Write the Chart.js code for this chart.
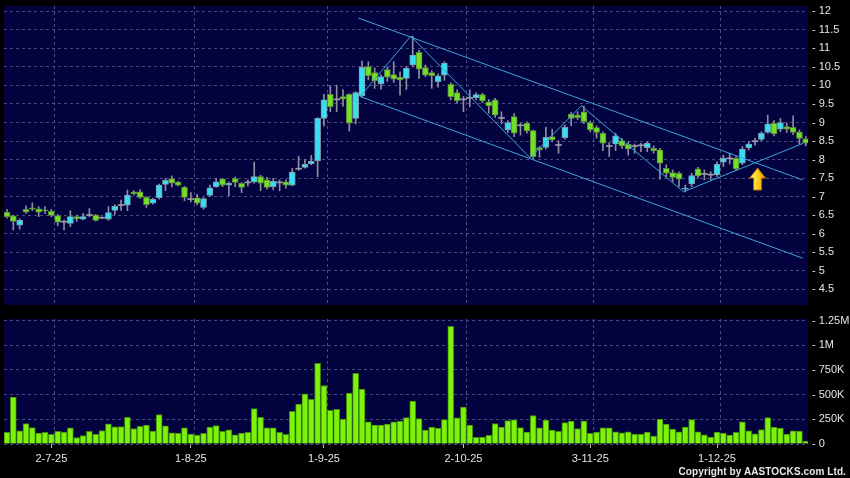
<!DOCTYPE html>
<html>
<head>
<meta charset="utf-8">
<script src="https://cdn.jsdelivr.net/npm/chart.js@4.4.1/dist/chart.umd.min.js"></script>
<style>
  body { margin: 0; background: #000; width: 850px; height: 478px; overflow: hidden; position: relative; }
  canvas { position: absolute; left: 0; }
  #price_chart { top: 0; }
  #volume_chart { top: 310px; }
  #copyright { position: absolute; right: 4px; top: 466px; line-height: 12px; color: #e8e8e8;
    font: bold 10px 'Liberation Sans', Arial, sans-serif; letter-spacing: 0.1px; }
</style>
</head>
<body>
<canvas id="price_chart" width="850" height="310"></canvas>
<canvas id="volume_chart" width="850" height="168"></canvas>
<div id="copyright">Copyright by AASTOCKS.com Ltd.</div>
<script>
// daily candles, 19-6-25 .. 18-12-25 (one entry per trading day)
const open_prices = [
  6.58, 6.48, 6.23, 6.66, 6.70, 6.67, 6.64, 6.60, 6.49, 6.31,
  6.28, 6.46, 6.39, 6.49, 6.50, 6.42, 6.39, 6.63, 6.76, 6.77,
  7.13, 7.13, 6.98, 6.82, 6.97, 7.33, 7.49, 7.39, 7.25, 6.92,
  6.97, 6.71, 7.03, 7.27, 7.47, 7.31, 7.49, 7.36, 7.37, 7.40,
  7.54, 7.45, 7.27, 7.37, 7.40, 7.31, 7.74, 7.79, 7.89, 7.97,
  9.11, 9.76, 9.61, 9.70, 9.76, 9.11, 9.72, 10.51, 10.35, 10.04,
  10.43, 10.29, 10.22, 10.19, 10.55, 10.89, 10.48, 10.35, 10.10, 10.28,
  10.03, 9.81, 9.61, 9.65, 9.67, 9.75, 9.56, 9.61, 9.11, 8.80,
  9.16, 8.91, 8.98, 8.78, 8.32, 8.33, 8.62, 8.38, 8.59, 9.23,
  9.20, 9.29, 9.00, 8.86, 8.71, 8.35, 8.42, 8.51, 8.41, 8.35,
  8.37, 8.32, 8.30, 8.26, 7.76, 7.65, 7.63, 7.20, 7.34, 7.75,
  7.60, 7.58, 7.59, 7.93, 8.02, 8.03, 7.90, 8.32, 8.48, 8.54,
  8.73, 8.98, 8.82, 8.89, 8.87, 8.74, 8.56
]
const high_prices = [
  6.66, 6.50, 6.40, 6.75, 6.83, 6.73, 6.73, 6.66, 6.52, 6.37,
  6.62, 6.50, 6.55, 6.68, 6.52, 6.45, 6.73, 6.78, 6.91, 7.18,
  7.16, 7.19, 7.00, 6.96, 7.34, 7.49, 7.56, 7.41, 7.28, 7.11,
  7.06, 6.97, 7.31, 7.49, 7.49, 7.40, 7.53, 7.38, 7.45, 7.93,
  7.58, 7.52, 7.49, 7.45, 7.45, 7.76, 8.09, 8.00, 8.11, 9.13,
  9.76, 9.99, 10.01, 9.89, 9.78, 9.83, 10.66, 10.64, 10.47, 10.29,
  10.50, 10.64, 10.37, 10.51, 11.33, 10.95, 10.55, 10.40, 10.31, 10.64,
  10.07, 9.88, 9.70, 9.88, 9.80, 9.79, 9.62, 9.65, 9.29, 9.05,
  9.24, 8.98, 9.02, 8.80, 8.35, 8.87, 8.82, 8.51, 8.93, 9.27,
  9.29, 9.44, 9.04, 8.91, 8.75, 8.46, 8.71, 8.57, 8.48, 8.42,
  8.44, 8.48, 8.37, 8.30, 7.86, 7.72, 7.67, 7.31, 7.63, 7.79,
  7.72, 7.67, 7.94, 8.12, 8.17, 8.08, 8.35, 8.48, 8.57, 8.75,
  9.20, 9.05, 9.11, 8.98, 9.18, 8.80, 8.62
]
const low_prices = [
  6.42, 6.10, 6.12, 6.55, 6.62, 6.46, 6.55, 6.46, 6.21, 6.10,
  6.19, 6.33, 6.37, 6.46, 6.34, 6.40, 6.36, 6.51, 6.63, 6.62,
  7.04, 6.95, 6.71, 6.80, 6.93, 7.16, 7.26, 7.29, 6.89, 6.86,
  6.78, 6.66, 7.01, 7.25, 7.27, 7.02, 7.27, 7.11, 7.29, 7.36,
  7.16, 7.20, 7.18, 7.16, 7.23, 7.29, 7.71, 7.77, 7.86, 7.54,
  8.91, 9.29, 9.29, 9.44, 8.77, 8.96, 9.70, 10.15, 9.92, 9.90,
  10.11, 10.08, 9.74, 9.89, 10.50, 10.19, 10.24, 9.92, 9.95, 10.14,
  9.61, 9.52, 9.29, 9.43, 9.61, 9.54, 9.25, 9.14, 8.96, 8.73,
  8.62, 8.66, 8.71, 8.03, 8.06, 8.28, 8.48, 8.17, 8.55, 8.91,
  9.08, 8.97, 8.75, 8.58, 8.24, 8.08, 8.24, 8.30, 8.12, 8.17,
  8.21, 8.21, 8.17, 7.47, 7.54, 7.41, 7.27, 7.13, 7.27, 7.50,
  7.45, 7.45, 7.54, 7.81, 7.88, 7.71, 7.86, 8.26, 8.39, 8.51,
  8.71, 8.64, 8.75, 8.73, 8.67, 8.42, 8.37
]
const close_prices = [
  6.46, 6.33, 6.37, 6.58, 6.66, 6.58, 6.62, 6.49, 6.31, 6.31,
  6.46, 6.40, 6.46, 6.49, 6.36, 6.42, 6.57, 6.74, 6.76, 7.04,
  7.07, 6.98, 6.78, 6.93, 7.31, 7.44, 7.36, 7.31, 6.98, 6.92,
  6.82, 6.95, 7.24, 7.40, 7.31, 7.36, 7.38, 7.25, 7.37, 7.54,
  7.36, 7.25, 7.41, 7.37, 7.31, 7.66, 7.74, 7.87, 7.95, 9.11,
  9.61, 9.43, 9.61, 9.63, 8.98, 9.81, 10.49, 10.26, 10.13, 10.24,
  10.22, 10.17, 10.15, 10.46, 10.82, 10.44, 10.28, 10.26, 10.26, 10.60,
  9.70, 9.59, 9.61, 9.65, 9.75, 9.58, 9.45, 9.20, 9.11, 9.00,
  8.71, 8.91, 8.77, 8.08, 8.26, 8.60, 8.53, 8.38, 8.87, 9.11,
  9.13, 9.02, 8.80, 8.73, 8.44, 8.35, 8.64, 8.37, 8.29, 8.35,
  8.37, 8.44, 8.24, 7.90, 7.63, 7.52, 7.47, 7.23, 7.57, 7.56,
  7.60, 7.58, 7.87, 8.03, 8.02, 7.75, 8.28, 8.42, 8.48, 8.71,
  8.96, 8.69, 9.00, 8.82, 8.73, 8.57, 8.44
]
// volume in thousands of shares
const volume_k = [
  117, 475, 134, 207, 167, 110, 117, 97, 127, 120,
  164, 64, 84, 127, 100, 137, 204, 174, 177, 271,
  157, 180, 191, 130, 297, 184, 114, 110, 164, 100,
  90, 107, 170, 187, 127, 144, 94, 110, 117, 358,
  271, 164, 164, 117, 97, 331, 404, 508, 451, 816,
  592, 341, 351, 251, 515, 715, 555, 224, 191, 191,
  201, 224, 231, 267, 435, 257, 140, 170, 160, 247,
  1190, 264, 374, 191, 67, 70, 87, 207, 170, 237,
  244, 167, 120, 287, 164, 241, 140, 127, 217, 231,
  157, 234, 107, 120, 164, 164, 124, 114, 124, 100,
  100, 120, 80, 251, 201, 150, 124, 170, 247, 124,
  94, 70, 120, 110, 90, 117, 224, 134, 104, 147,
  267, 170, 160, 100, 134, 130, 30
]

const date_labels = ['2-7-25', '1-8-25', '1-9-25', '2-10-25', '3-11-25', '1-12-25']
const date_label_index = [7, 29, 50, 72, 92, 112]
const price_ticks = [4.5, 5, 5.5, 6, 6.5, 7, 7.5, 8, 8.5, 9, 9.5, 10, 10.5, 11, 11.5, 12]
const volume_ticks = [0, 250, 500, 750, 1000, 1250]
const volume_tick_labels = ['0', '250K', '500K', '750K', '1M', '1.25M']

// drawn trend lines (candle index, price)
const upper_channel_index = [55.4, 125.5]
const upper_channel_price = [11.82, 7.45]
const lower_channel_index = [55.7, 125.5]
const lower_channel_price = [9.70, 5.34]
const zigzag_index = [55.7, 63.7, 82.5, 90.6, 106.7, 125.6]
const zigzag_price = [9.70, 11.33, 8.05, 9.45, 7.13, 8.44]
const arrow_index = 118.4
const arrow_price = 7.77

const x_min = -0.47
const x_max = 126.35
const font_family = "'Liberation Sans', Arial, sans-serif"
const text_color = '#e4e4e4'
const grid_color = '#4a4a80'
const trend_color = '#3aa6dc'

const panel_background = {
  id: 'panel_background',
  beforeDraw(chart) {
    const { ctx, chartArea } = chart
    ctx.save()
    ctx.fillStyle = '#02023f'
    ctx.fillRect(chartArea.left, chartArea.top, chartArea.width, chartArea.height)
    ctx.restore()
  }
}

const arrow_marker = {
  id: 'arrow_marker',
  afterDatasetsDraw(chart) {
    const { ctx, scales } = chart
    const tip_x = scales.x.getPixelForValue(arrow_index)
    const tip_y = scales.y.getPixelForValue(arrow_price)
    ctx.save()
    const grad = ctx.createLinearGradient(tip_x - 7, 0, tip_x + 7, 0)
    grad.addColorStop(0, '#fff27a')
    grad.addColorStop(0.5, '#ffd21a')
    grad.addColorStop(1, '#e89a00')
    ctx.beginPath()
    ctx.moveTo(tip_x, tip_y)
    ctx.lineTo(tip_x + 8, tip_y + 10)
    ctx.lineTo(tip_x + 4, tip_y + 10)
    ctx.lineTo(tip_x + 4, tip_y + 22)
    ctx.lineTo(tip_x - 4, tip_y + 22)
    ctx.lineTo(tip_x - 4, tip_y + 10)
    ctx.lineTo(tip_x - 8, tip_y + 10)
    ctx.closePath()
    ctx.fillStyle = grad
    ctx.fill()
    ctx.strokeStyle = '#a86a00'
    ctx.lineWidth = 1
    ctx.stroke()
    ctx.restore()
  }
}

// keep the plot area exactly where the layout padding puts it
const no_axis_padding = s => {
  s.paddingTop = 0
  s.paddingBottom = 0
  s.paddingLeft = 0
  s.paddingRight = 0
}

function candle_fill(i) {
  if (close_prices[i] > open_prices[i]) return '#33dff0'
  if (close_prices[i] < open_prices[i]) return '#72e024'
  return '#9c9cac'
}

function candle_border(i) {
  if (close_prices[i] > open_prices[i]) return '#7d9cb0'
  if (close_prices[i] < open_prices[i]) return '#5d8a3a'
  return '#9c9cac'
}

const body_data = open_prices.map((o, i) => ({ x: i, y: [o, close_prices[i]] }))
const wick_data = open_prices.map((_, i) => ({ x: i, y: [low_prices[i], high_prices[i]] }))
const volume_data = volume_k.map((v, i) => ({ x: i, y: v }))
const to_points = (xs, ys) => xs.map((x, i) => ({ x: x, y: ys[i] }))

const trend_line = (points) => ({
  type: 'line',
  data: points,
  borderColor: trend_color,
  borderWidth: 1,
  pointRadius: 0,
  tension: 0,
  order: 0
})

const price_chart = new Chart(document.getElementById('price_chart').getContext('2d'), {
  type: 'bar',
  data: {
    datasets: [
      trend_line(to_points(upper_channel_index, upper_channel_price)),
      trend_line(to_points(lower_channel_index, lower_channel_price)),
      trend_line(to_points(zigzag_index, zigzag_price)),
      {
        data: body_data,
        backgroundColor: open_prices.map((_, i) => candle_fill(i)),
        borderColor: open_prices.map((_, i) => candle_border(i)),
        borderWidth: open_prices.map((o, i) => (o === close_prices[i] ? 0 : 1)),
        borderSkipped: false,
        barThickness: 6,
        minBarLength: 1,
        grouped: false,
        order: 1
      },
      {
        data: wick_data,
        backgroundColor: '#8e8e9e',
        borderWidth: 0,
        barThickness: 1,
        grouped: false,
        order: 2
      }
    ]
  },
  options: {
    responsive: false,
    animation: false,
    devicePixelRatio: 1,
    layout: { padding: { left: 4, top: 6, right: 0, bottom: 5 } },
    plugins: { legend: { display: false }, tooltip: { enabled: false } },
    scales: {
      x: {
        type: 'linear',
        offset: false,
        min: x_min,
        max: x_max,
        afterBuildTicks: s => { s.ticks = date_label_index.map(i => ({ value: i + 0.5 })) },
        afterFit: s => { s.height = 0; no_axis_padding(s) },
        ticks: { display: false },
        grid: { color: grid_color, drawTicks: false, offset: false },
        border: { display: false, dash: [3, 3] }
      },
      y: {
        position: 'right',
        min: 4.076,
        max: 12.143,
        afterBuildTicks: s => { s.ticks = price_ticks.map(v => ({ value: v })) },
        afterFit: s => { s.width = 42; no_axis_padding(s) },
        ticks: {
          color: text_color,
          font: { family: font_family, size: 11 },
          padding: 4,
          callback: v => '- ' + v
        },
        grid: { color: grid_color, drawTicks: false },
        border: { display: false, dash: [3, 3] }
      }
    }
  },
  plugins: [panel_background, arrow_marker]
});

const volume_chart = new Chart(document.getElementById('volume_chart').getContext('2d'), {
  type: 'bar',
  data: {
    datasets: [{
      data: volume_data,
      backgroundColor: '#7df20a',
      borderColor: '#3f8a0a',
      borderWidth: 1,
      borderSkipped: 'start',
      barThickness: 6,
      grouped: false
    }]
  },
  options: {
    responsive: false,
    animation: false,
    devicePixelRatio: 1,
    layout: { padding: { left: 4, top: 9, right: 0, bottom: 10 } },
    plugins: { legend: { display: false }, tooltip: { enabled: false } },
    scales: {
      x: {
        type: 'linear',
        position: 'bottom',
        offset: false,
        min: x_min,
        max: x_max,
        afterBuildTicks: s => { s.ticks = date_label_index.map(i => ({ value: i })) },
        afterFit: s => { s.height = 24; no_axis_padding(s) },
        ticks: {
          color: text_color,
          font: { family: font_family, size: 11 },
          padding: 4,
          maxRotation: 0,
          autoSkip: false,
          callback: (v, k) => date_labels[k]
        },
        grid: { drawOnChartArea: false, drawTicks: true, tickLength: 4, tickColor: '#bbbbbb', offset: false },
        border: { display: false }
      },
      x_grid: {
        type: 'linear',
        position: 'bottom',
        offset: false,
        min: x_min,
        max: x_max,
        afterBuildTicks: s => { s.ticks = date_label_index.map(i => ({ value: i + 0.5 })) },
        afterFit: s => { s.height = 0; no_axis_padding(s) },
        ticks: { display: false },
        grid: { color: grid_color, drawTicks: false, offset: false },
        border: { display: false, dash: [3, 3] }
      },
      y: {
        position: 'right',
        min: 0,
        max: 1265,
        afterBuildTicks: s => { s.ticks = volume_ticks.map(v => ({ value: v })) },
        afterFit: s => { s.width = 42; no_axis_padding(s) },
        ticks: {
          color: text_color,
          font: { family: font_family, size: 11 },
          padding: 4,
          callback: (v, k) => '- ' + volume_tick_labels[k]
        },
        grid: { color: grid_color, drawTicks: false },
        border: { display: false, dash: [3, 3] }
      }
    }
  },
  plugins: [panel_background]
});
</script>
</body>
</html>
